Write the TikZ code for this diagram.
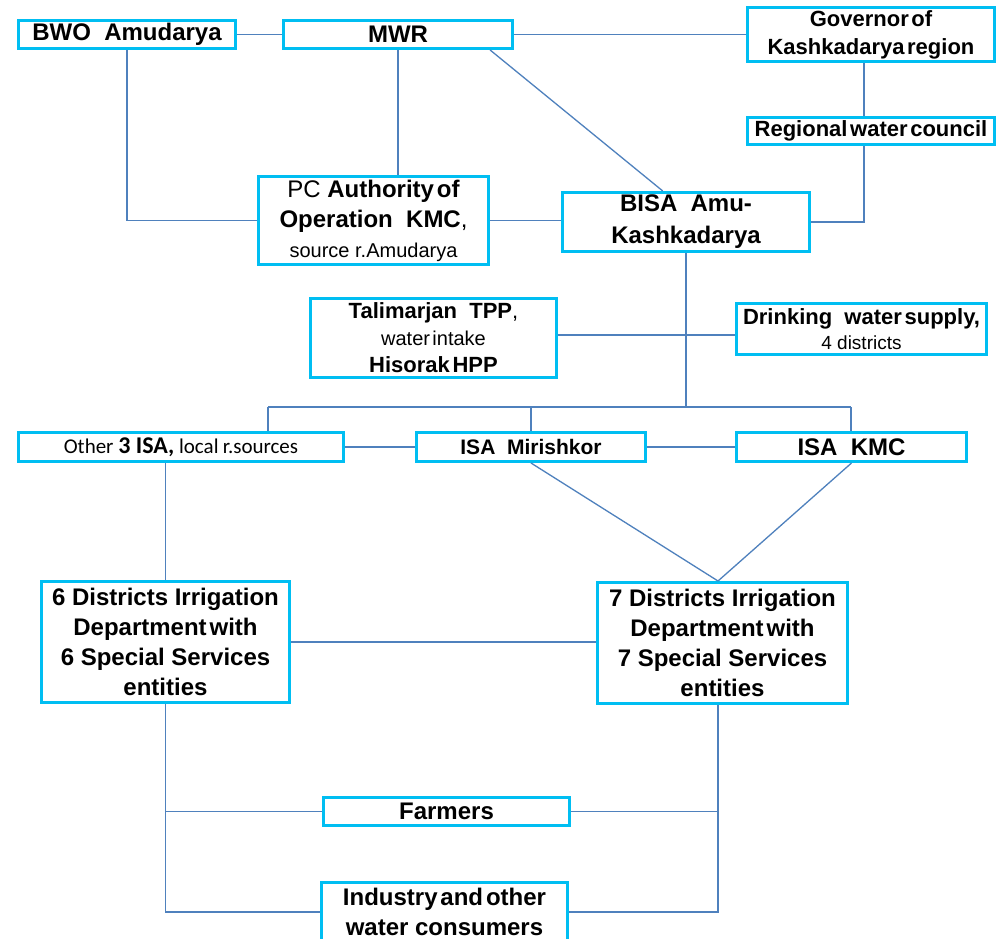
\documentclass[tikz,border=0pt]{standalone}
\usepackage{fontspec}
\setmainfont{Liberation Sans}
\newfontfamily\calfont{Carlito}
\usetikzlibrary{calc}
\definecolor{boxc}{RGB}{0,190,242}
\definecolor{linkc}{RGB}{79,129,189}
% narrow word space used in some labels
\newcommand{\tsp}{\hspace{0.12em}}
\newcommand{\fsz}[2]{\fontsize{#1}{#2}\selectfont}

\begin{document}
\begin{tikzpicture}[x=1pt,y=-1pt,
  orgbox/.style={draw=boxc, line width=3pt, fill=white, inner sep=0pt, align=center},
  link/.style={draw=linkc, line width=1.3pt}]
\useasboundingbox (0,0) rectangle (1001,939);
\fill[white] (0,0) rectangle (1001,939);

% ---- top level
\node[orgbox, minimum width=217pt, minimum height=28pt, font=\fsz{24}{30}\bfseries] (bwo) at (127,34.5) {BWO\ \ Amudarya};
\node[orgbox, minimum width=229pt, minimum height=28pt, font=\fsz{24}{30}\bfseries] (mwr) at (398,34.5) {MWR};
\node[orgbox, minimum width=247pt, minimum height=54pt, font=\fsz{22}{28}\bfseries] (gov) at (871,34.5) {Governor\tsp of\\Kashkadarya\tsp region};
\node[orgbox, minimum width=247pt, minimum height=27pt, font=\fsz{22}{28}\bfseries] (rwc) at (871,131) {Regional\tsp water\tsp council};

% ---- basin level
\node[orgbox, minimum width=230pt, minimum height=88pt, font=\fsz{24}{30}\bfseries] (pc) at (373.5,220.5)
  {{\mdseries PC} Authority\tsp of\\Operation\ \ KMC{\mdseries ,}\\{\mdseries\fsz{20}{30}source r.Amudarya}};
\node[orgbox, minimum width=247pt, minimum height=59pt, font=\fsz{24}{32}\bfseries] (bisa) at (686,222) {BISA\ \ Amu-\\Kashkadarya};
\node[orgbox, minimum width=246pt, minimum height=79pt, font=\fsz{22}{27}\bfseries] (tal) at (433.5,338)
  {Talimarjan\ \ TPP{\mdseries ,}\\{\mdseries\fsz{20}{27}water\tsp intake}\\Hisorak\tsp HPP};
\node[orgbox, minimum width=250pt, minimum height=51pt, font=\fsz{22}{25}\bfseries] (drink) at (861.5,329)
  {Drinking\ \ water\tsp supply,\\{\mdseries\fsz{19}{25}4 districts}};

% ---- ISA level
\node[orgbox, minimum width=325pt, minimum height=29pt, font=\calfont\fsz{21}{24}] (other) at (181,447)
  {Other {\bfseries\fsz{24}{24}3 ISA,} local\hspace{0.2em}r.sources};
\node[orgbox, minimum width=229pt, minimum height=29pt, font=\fsz{21}{24}\bfseries] (mir) at (531,447) {ISA\ \ Mirishkor};
\node[orgbox, minimum width=230pt, minimum height=29pt, font=\fsz{24}{24}\bfseries] (kmc) at (851.5,447) {ISA\ \ KMC};

% ---- district level
\node[orgbox, minimum width=248pt, minimum height=121pt, font=\fsz{24}{30}\bfseries] (d6) at (165.5,642)
  {6 Districts Irrigation\\Department\tsp with\\6 Special Services\\entities};
\node[orgbox, minimum width=250pt, minimum height=121pt, font=\fsz{24}{30}\bfseries] (d7) at (722.5,643)
  {7 Districts Irrigation\\Department\tsp with\\7 Special Services\\entities};

% ---- users
\node[orgbox, minimum width=246pt, minimum height=28pt, font=\fsz{24}{30}\bfseries] (farm) at (446.5,811.5) {Farmers};
\node[orgbox, minimum width=246pt, minimum height=60pt, font=\fsz{24}{30}\bfseries] (ind) at (444.5,912) {Industry\tsp and\tsp other\\water consumers};

% ---- helper points of the connectors
\coordinate (govx) at ([xshift=-7pt]gov.south);
\coordinate (rwcx) at ([xshift=-7pt]rwc.south);
\coordinate (hub)  at (686,407);
\coordinate (busL) at (268,407);
\coordinate (busR) at (851,407);
\coordinate (tie)  at (686,335);
\coordinate (apex) at ([xshift=-4.5pt]d7.north);
\coordinate (d7x)  at ([xshift=-4.5pt]d7.south);

% ---- connectors
\draw[link] (bwo.east) -- (mwr.west);
\draw[link] (mwr.east) -- (gov.west);
\draw[link] (mwr.south) -- (mwr.south |- pc.north);
\draw[link] (bwo.south) |- (pc.west);
\draw[link] ($(mwr.south west)!0.897!(mwr.south east)$) -- ($(bisa.north west)!0.407!(bisa.north east)$);
\draw[link] (govx) -- (govx |- rwc.north);
\draw[link] (rwcx) |- (bisa.east);
\draw[link] (pc.east) -- (pc.east -| bisa.west);
\draw[link] (bisa.south) -- (hub);
\draw[link] (tal.east |- tie) -- (drink.west |- tie);
\draw[link] (busL) -- (busR);
\draw[link] (busL) -- (busL |- other.north);
\draw[link] (mir.north |- busL) -- (mir.north);
\draw[link] (busR) -- (busR |- kmc.north);
\draw[link] (other.east) -- (mir.west);
\draw[link] (mir.east) -- (kmc.west);
\draw[link] (mir.south) -- (apex);
\draw[link] (kmc.south) -- (apex);
\draw[link] (d6.north |- other.south) -- (d6.north);
\draw[link] (d6.east) -- (d6.east -| d7.west);
\draw[link] (d6.south) |- (ind.west);
\draw[link] (d7x) |- (ind.east);
\draw[link] (farm.west) -- (farm.west -| d6.south);
\draw[link] (farm.east) -- (farm.east -| d7x);
\end{tikzpicture}
\end{document}
